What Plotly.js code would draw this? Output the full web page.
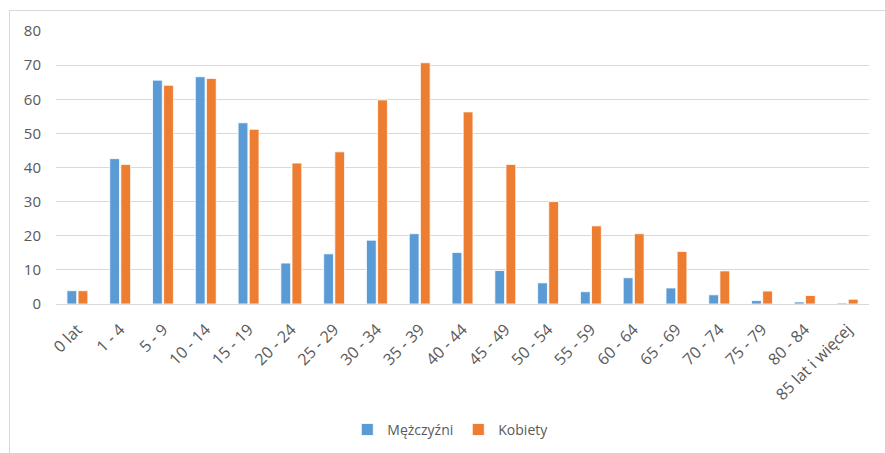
<!DOCTYPE html>
<html>
<head>
<meta charset="utf-8">
<script src="https://cdn.plot.ly/plotly-3.0.1.min.js"></script>
<style>
  html, body { margin: 0; padding: 0; background: #ffffff; }
  #wrap { position: relative; width: 885px; height: 453px; overflow: hidden; }
  #chart { position: absolute; left: 0; top: 0; width: 885px; height: 453px; }
  #frame { position: absolute; left: 9px; top: 10px; width: 900px; height: 460px;
           border-left: 1px solid #D9D9D9; border-top: 1px solid #D9D9D9; pointer-events: none; }
</style>
</head>
<body>
<div id="wrap">
  <div id="chart"></div>
  <div id="frame"></div>
</div>
<script>
const categories = ["0 lat", "1 - 4", "5 - 9", "10 - 14", "15 - 19", "20 - 24", "25 - 29", "30 - 34",
  "35 - 39", "40 - 44", "45 - 49", "50 - 54", "55 - 59", "60 - 64", "65 - 69", "70 - 74",
  "75 - 79", "80 - 84", "85 lat i więcej"];
const men = [3.9, 42.6, 65.6, 66.6, 53.1, 12.0, 14.7, 18.7, 20.6, 15.1, 9.8, 6.2, 3.6, 7.7, 4.7, 2.7, 1.0, 0.6, 0.3];
const women = [3.9, 40.9, 64.1, 66.1, 51.2, 41.3, 44.6, 59.8, 70.7, 56.3, 40.9, 30.0, 22.9, 20.6, 15.4, 9.7, 3.8, 2.5, 1.4];
const seriesNames = ["Mężczyźni", "Kobiety"];
const yTicks = [0, 10, 20, 30, 40, 50, 60, 70, 80];

const font = "Open Sans, Liberation Sans, sans-serif";
const traces = [
  { type: "bar", name: seriesNames[0], x: categories, y: men,
    marker: { color: "#5B9BD5", line: { color: "#ffffff", width: 0.8 } } },
  { type: "bar", name: seriesNames[1], x: categories, y: women,
    marker: { color: "#ED7D31", line: { color: "#ffffff", width: 0.8 } } }
];

const layout = {
  width: 885, height: 453,
  margin: { l: 56, r: 16, t: 31, b: 149, pad: 0, autoexpand: false },
  paper_bgcolor: "rgba(0,0,0,0)", plot_bgcolor: "#ffffff",
  barmode: "group", bargap: 0.48, bargroupgap: 0.12,
  font: { family: font, size: 13, color: "#595959" },
  showlegend: true,
  legend: { orientation: "h", xref: "paper", x: 0.485, xanchor: "center",
            yref: "container", y: 0.051, yanchor: "middle",
            font: { family: font, size: 14, color: "#595959" }, itemwidth: 30, traceorder: "normal" },
  xaxis: { type: "category", tickangle: -45, showgrid: false, zeroline: false,
           showline: true, linecolor: "#D9D9D9", linewidth: 1, ticks: "", ticklabelstandoff: 9,
           tickfont: { family: font, size: 16, color: "#595959" }, automargin: false },
  yaxis: { range: [0, 80], tickvals: yTicks, ticktext: yTicks.map(String),
           showgrid: true, gridcolor: "#D9D9D9", gridwidth: 1, zeroline: false,
           showline: false, ticks: "", ticklabelstandoff: 14,
           tickfont: { family: font, size: 15, color: "#595959" }, automargin: false }
};

Plotly.newPlot("chart", traces, layout, { displayModeBar: false, staticPlot: true });
</script>
</body>
</html>
